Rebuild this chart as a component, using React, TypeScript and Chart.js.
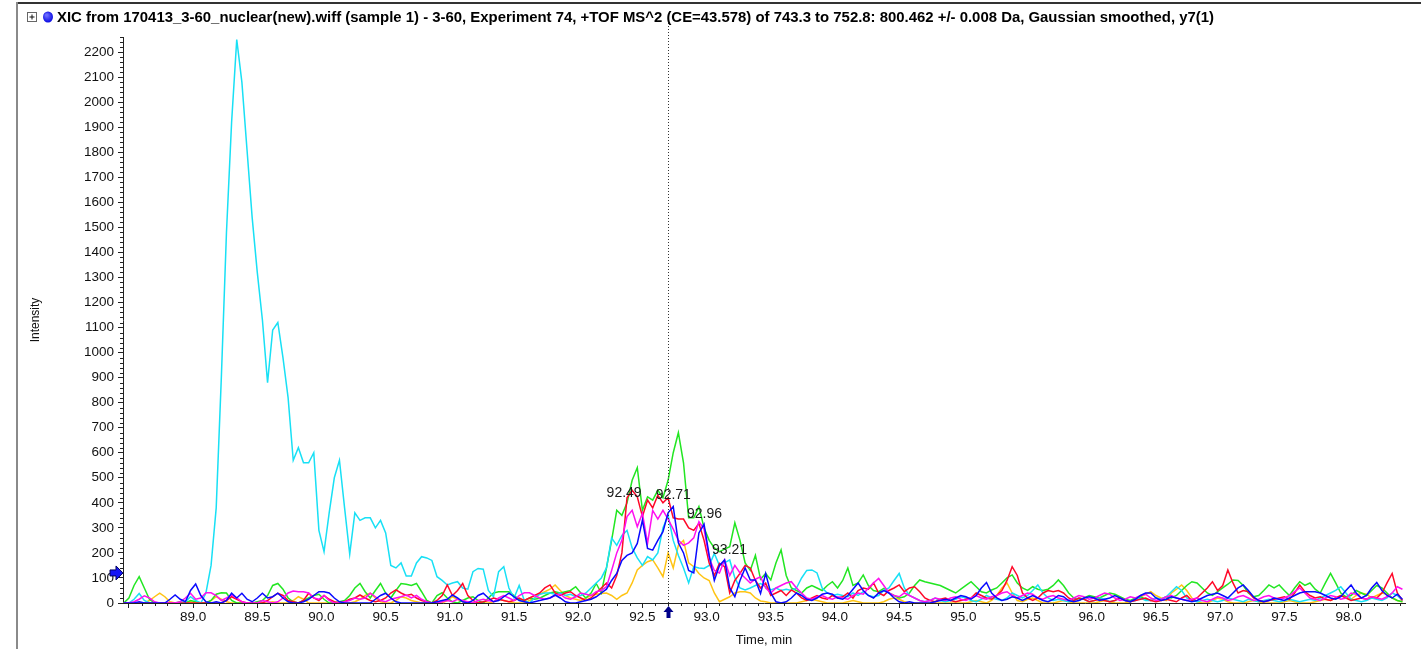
import { useEffect, useRef } from 'react';
import { Chart, registerables } from 'chart.js';

Chart.register(...registerables);

// ---------- data ----------
const TITLE =
  'XIC from 170413_3-60_nuclear(new).wiff (sample 1) - 3-60, Experiment 74, +TOF MS^2 (CE=43.578) of 743.3 to 752.8: 800.462 +/- 0.008 Da, Gaussian smoothed, y7(1)';
const X_TITLE = 'Time, min';
const Y_TITLE = 'Intensity';
const X_MIN = 88.454;
const X_MAX = 98.44;
const Y_MIN = 0;
const Y_MAX = 2260;
const CURSOR_TIME = 92.7;
const MARKER_LEVEL = 120;

const TIMES = [
  88.46, 88.5, 88.54, 88.58, 88.62, 88.66, 88.7, 88.74, 88.78, 88.82, 88.86, 88.9, 88.94, 88.98, 89.02, 89.06, 89.1, 89.14, 89.18, 89.22, 89.26, 89.3, 89.34, 89.38, 89.42,
  89.46, 89.5, 89.54, 89.58, 89.62, 89.66, 89.7, 89.74, 89.78, 89.82, 89.86, 89.9, 89.94, 89.98, 90.02, 90.06, 90.1, 90.14, 90.18, 90.22, 90.26, 90.3, 90.34, 90.38, 90.42,
  90.46, 90.5, 90.54, 90.58, 90.62, 90.66, 90.7, 90.74, 90.78, 90.82, 90.86, 90.9, 90.94, 90.98, 91.02, 91.06, 91.1, 91.14, 91.18, 91.22, 91.26, 91.3, 91.34, 91.38, 91.42,
  91.46, 91.5, 91.54, 91.58, 91.62, 91.66, 91.7, 91.74, 91.78, 91.82, 91.86, 91.9, 91.94, 91.98, 92.02, 92.06, 92.1, 92.14, 92.18, 92.22, 92.26, 92.3, 92.34, 92.38, 92.42,
  92.46, 92.5, 92.54, 92.58, 92.62, 92.66, 92.7, 92.74, 92.78, 92.82, 92.86, 92.9, 92.94, 92.98, 93.02, 93.06, 93.1, 93.14, 93.18, 93.22, 93.26, 93.3, 93.34, 93.38, 93.42,
  93.46, 93.5, 93.54, 93.58, 93.62, 93.66, 93.7, 93.74, 93.78, 93.82, 93.86, 93.9, 93.94, 93.98, 94.02, 94.06, 94.1, 94.14, 94.18, 94.22, 94.26, 94.3, 94.34, 94.38, 94.42,
  94.46, 94.5, 94.54, 94.58, 94.62, 94.66, 94.7, 94.74, 94.78, 94.82, 94.86, 94.9, 94.94, 94.98, 95.02, 95.06, 95.1, 95.14, 95.18, 95.22, 95.26, 95.3, 95.34, 95.38, 95.42,
  95.46, 95.5, 95.54, 95.58, 95.62, 95.66, 95.7, 95.74, 95.78, 95.82, 95.86, 95.9, 95.94, 95.98, 96.02, 96.06, 96.1, 96.14, 96.18, 96.22, 96.26, 96.3, 96.34, 96.38, 96.42,
  96.46, 96.5, 96.54, 96.58, 96.62, 96.66, 96.7, 96.74, 96.78, 96.82, 96.86, 96.9, 96.94, 96.98, 97.02, 97.06, 97.1, 97.14, 97.18, 97.22, 97.26, 97.3, 97.34, 97.38, 97.42,
  97.46, 97.5, 97.54, 97.58, 97.62, 97.66, 97.7, 97.74, 97.78, 97.82, 97.86, 97.9, 97.94, 97.98, 98.02, 98.06, 98.1, 98.14, 98.18, 98.22, 98.26, 98.3, 98.34, 98.38, 98.42,
];

const cyanIntensity = [
  0, 0, 15, 38, 10, 0, 0, 0, 0, 0, 0, 0, 5, 25, 10, 0, 40, 150, 380, 900, 1480, 1920, 2250, 2080, 1810,
  1540, 1320, 1130, 880, 1090, 1120, 980, 820, 570, 620, 560, 560, 600, 290, 205, 360, 500, 570, 380, 195, 360, 330, 340, 340, 300,
  330, 280, 150, 140, 160, 108, 108, 160, 185, 180, 170, 105, 90, 72, 80, 85, 60, 55, 125, 138, 135, 50, 25, 125, 145,
  60, 20, 70, 10, 0, 20, 35, 40, 40, 35, 40, 30, 35, 25, 30, 40, 60, 80, 100, 140, 260, 230, 270, 290, 220,
  180, 150, 185, 172, 200, 300, 350, 250, 190, 140, 80, 145, 140, 138, 150, 198, 150, 160, 172, 100, 60, 52, 60, 70, 78,
  65, 52, 60, 50, 55, 50, 60, 100, 130, 132, 120, 60, 40, 30, 35, 30, 25, 40, 30, 45, 30, 25, 30, 50, 60,
  90, 118, 60, 30, 20, 10, 5, 10, 20, 10, 5, 10, 15, 25, 20, 10, 5, 15, 30, 20, 15, 10, 20, 40, 30,
  20, 30, 50, 72, 40, 20, 10, 15, 10, 5, 10, 20, 15, 5, 10, 20, 15, 5, 10, 20, 10, 5, 10, 20, 10,
  10, 20, 15, 25, 45, 65, 50, 20, 10, 5, 10, 15, 10, 5, 10, 20, 15, 10, 5, 15, 10, 5, 10, 15, 10,
  5, 10, 15, 10, 5, 10, 15, 10, 20, 30, 40, 50, 65, 40, 15, 10, 5, 10, 20, 15, 10, 20, 40, 30, 10,
];

const greenIntensity = [
  0, 20, 70, 105, 60, 15, 0, 0, 0, 0, 0, 5, 0, 10, 5, 0, 0, 10, 35, 41, 40, 10, 0, 0, 0,
  0, 5, 10, 30, 70, 78, 55, 20, 5, 0, 10, 20, 30, 35, 15, 0, 0, 5, 10, 30, 60, 78, 45, 20, 50,
  78, 40, 20, 50, 78, 75, 70, 78, 45, 10, 0, 30, 41, 20, 5, 0, 10, 20, 25, 10, 0, 20, 40, 45, 45,
  45, 30, 15, 10, 20, 15, 19, 30, 40, 45, 40, 45, 50, 65, 40, 20, 40, 78, 40, 140, 250, 370, 350, 400, 490,
  540, 370, 424, 411, 450, 420, 490, 600, 680, 560, 340, 340, 385, 300, 250, 220, 205, 215, 225, 320, 250, 160, 130, 190, 95,
  118, 92, 160, 212, 110, 60, 50, 40, 60, 70, 60, 50, 70, 85, 60, 90, 140, 70, 80, 112, 70, 50, 45, 58, 40,
  30, 20, 25, 40, 70, 92, 85, 80, 75, 70, 60, 50, 40, 55, 70, 85, 65, 45, 40, 52, 60, 80, 100, 112, 80,
  60, 50, 65, 55, 50, 55, 70, 92, 70, 40, 20, 10, 20, 30, 25, 20, 30, 40, 35, 25, 15, 10, 20, 25, 15,
  10, 20, 15, 25, 20, 30, 50, 70, 85, 80, 60, 40, 30, 45, 60, 75, 92, 90, 70, 40, 25, 30, 50, 72, 60,
  72, 50, 30, 60, 85, 70, 80, 55, 40, 80, 118, 80, 40, 25, 30, 50, 40, 30, 50, 70, 60, 40, 20, 10, 5,
];

const redIntensity = [
  0, 0, 0, 0, 0, 0, 0, 0, 0, 0, 0, 0, 0, 0, 0, 0, 0, 0, 0, 0, 10, 25, 15, 5, 0,
  0, 0, 0, 10, 25, 39, 30, 10, 5, 0, 10, 39, 20, 10, 30, 15, 5, 0, 5, 15, 20, 32, 20, 10, 5,
  10, 20, 40, 52, 40, 30, 35, 20, 10, 5, 0, 10, 30, 72, 30, 50, 78, 30, 10, 0, 5, 10, 20, 15, 10,
  5, 10, 20, 10, 20, 30, 40, 60, 72, 40, 30, 40, 45, 30, 20, 10, 20, 40, 60, 80, 60, 110, 200, 420, 450,
  424, 345, 411, 380, 430, 400, 420, 340, 335, 335, 300, 290, 318, 250, 160, 110, 158, 145, 40, 90, 118, 150, 140, 90, 60,
  80, 30, 40, 50, 30, 52, 40, 20, 10, 20, 30, 20, 15, 30, 20, 25, 40, 20, 50, 60, 55, 80, 40, 30, 50,
  60, 72, 45, 60, 65, 45, 20, 10, 5, 15, 20, 10, 5, 10, 15, 20, 40, 30, 20, 15, 30, 50, 90, 145, 110,
  40, 20, 10, 20, 40, 50, 45, 50, 40, 20, 10, 20, 15, 5, 10, 15, 10, 5, 10, 20, 10, 5, 10, 15, 20,
  10, 5, 10, 15, 10, 5, 20, 30, 10, 20, 40, 60, 85, 50, 70, 132, 80, 40, 50, 45, 20, 10, 5, 10, 15,
  20, 25, 15, 40, 72, 45, 30, 20, 25, 15, 10, 20, 30, 20, 10, 15, 20, 15, 25, 20, 40, 80, 118, 40, 10,
];

const magentaIntensity = [
  0, 0, 5, 15, 29, 20, 5, 0, 0, 0, 0, 5, 20, 39, 15, 20, 41, 41, 30, 10, 20, 32, 20, 5, 0,
  0, 0, 10, 5, 0, 5, 20, 40, 48, 45, 45, 40, 20, 15, 30, 10, 0, 0, 5, 10, 20, 15, 20, 39, 25,
  10, 5, 15, 20, 25, 32, 20, 30, 15, 5, 0, 0, 5, 10, 5, 15, 10, 5, 0, 10, 15, 10, 5, 20, 30,
  20, 10, 30, 41, 41, 30, 20, 15, 20, 30, 35, 20, 15, 25, 40, 35, 30, 45, 50, 65, 130, 200, 250, 345, 370,
  305, 358, 238, 370, 335, 370, 335, 295, 250, 230, 240, 260, 325, 295, 180, 130, 120, 172, 110, 150, 120, 100, 80, 95, 105,
  60, 40, 60, 70, 80, 85, 60, 40, 20, 15, 25, 30, 20, 15, 25, 20, 15, 30, 40, 35, 60, 80, 98, 70, 40,
  30, 25, 40, 30, 20, 10, 5, 10, 20, 15, 10, 20, 25, 15, 10, 20, 30, 20, 15, 25, 30, 40, 45, 30, 20,
  30, 40, 35, 20, 15, 25, 30, 20, 15, 10, 20, 30, 25, 15, 20, 30, 40, 35, 20, 10, 15, 25, 20, 30, 35,
  20, 10, 15, 25, 30, 20, 15, 10, 15, 20, 10, 5, 15, 25, 20, 10, 15, 25, 30, 20, 10, 15, 25, 30, 20,
  15, 20, 30, 45, 60, 40, 20, 15, 10, 20, 30, 25, 15, 20, 40, 35, 20, 15, 25, 20, 15, 25, 40, 65, 55,
];

const blueIntensity = [
  0, 0, 0, 5, 0, 0, 0, 0, 0, 15, 32, 15, 5, 50, 76, 30, 5, 0, 5, 0, 10, 39, 20, 39, 15,
  5, 20, 39, 20, 25, 39, 20, 5, 0, 0, 5, 15, 30, 45, 45, 40, 20, 5, 0, 0, 0, 0, 0, 0, 15,
  30, 39, 20, 5, 0, 0, 0, 0, 0, 0, 0, 5, 10, 15, 32, 20, 5, 0, 10, 30, 39, 20, 5, 10, 25,
  39, 25, 10, 5, 0, 5, 10, 15, 20, 32, 20, 5, 0, 0, 5, 10, 15, 25, 40, 55, 90, 118, 170, 190, 200,
  238, 331, 218, 211, 250, 285, 360, 385, 240, 200, 130, 120, 280, 315, 190, 90, 150, 172, 60, 25, 90, 140, 92, 92, 38,
  118, 40, 5, 0, 5, 20, 40, 30, 15, 10, 20, 35, 40, 35, 20, 15, 30, 55, 80, 50, 30, 20, 40, 50, 40,
  20, 5, 0, 5, 0, 0, 0, 0, 5, 10, 15, 10, 20, 30, 25, 15, 30, 60, 82, 40, 20, 10, 15, 25, 20,
  10, 20, 30, 20, 10, 5, 15, 30, 25, 10, 5, 10, 20, 25, 20, 10, 15, 20, 30, 20, 10, 5, 15, 30, 40,
  40, 20, 10, 15, 25, 20, 15, 10, 5, 10, 20, 30, 35, 40, 30, 20, 40, 60, 72, 50, 25, 10, 5, 10, 20,
  15, 10, 20, 30, 40, 45, 45, 45, 40, 30, 20, 15, 25, 50, 72, 40, 20, 30, 60, 82, 50, 30, 20, 35, 15,
];

const yellowIntensity = [
  0, 0, 0, 0, 0, 10, 25, 39, 25, 5, 0, 0, 0, 5, 0, 0, 0, 10, 25, 15, 5, 0, 0, 0, 0,
  0, 0, 0, 0, 5, 0, 0, 0, 10, 25, 15, 0, 0, 0, 0, 0, 0, 0, 0, 0, 5, 15, 30, 39, 20,
  5, 0, 0, 10, 25, 20, 10, 5, 0, 0, 0, 0, 0, 10, 25, 15, 5, 0, 0, 0, 0, 0, 5, 15, 10,
  5, 0, 0, 0, 10, 20, 35, 45, 55, 72, 50, 30, 20, 15, 10, 20, 30, 35, 38, 40, 30, 15, 30, 40, 80,
  132, 150, 165, 172, 140, 105, 200, 140, 230, 250, 160, 145, 118, 100, 90, 40, 5, 15, 25, 40, 45, 45, 40, 20, 8,
  5, 0, 0, 0, 0, 0, 0, 5, 10, 15, 10, 5, 0, 0, 0, 0, 5, 10, 5, 0, 0, 0, 0, 5, 15,
  20, 15, 5, 0, 0, 0, 0, 0, 0, 0, 0, 0, 0, 0, 0, 5, 10, 5, 0, 10, 30, 60, 80, 40, 10,
  5, 15, 20, 10, 0, 0, 0, 5, 10, 5, 0, 0, 0, 0, 0, 5, 10, 5, 0, 0, 0, 5, 15, 25, 35,
  45, 30, 20, 10, 40, 55, 72, 50, 20, 5, 0, 0, 10, 20, 15, 5, 0, 0, 0, 5, 10, 5, 0, 0, 0,
  0, 5, 10, 5, 0, 0, 0, 5, 10, 15, 10, 20, 30, 25, 15, 30, 40, 35, 20, 30, 40, 35, 20, 10, 5,
];

const PEAK_LABELS = ['92.49', '92.71', '92.96', '93.21'];
const PEAK_TIMES = [92.49, 92.71, 92.96, 93.21];
const PEAK_LEVELS = [415, 407, 331, 188];

// ---------- styling ----------
const FONT = "'Liberation Sans', Arial, sans-serif";
const SERIES = [
  { label: 'blue', values: blueIntensity, color: '#0A0AFF' },
  { label: 'magenta', values: magentaIntensity, color: '#FF10F0' },
  { label: 'red', values: redIntensity, color: '#FF0828' },
  { label: 'cyan', values: cyanIntensity, color: '#18E0F5' },
  { label: 'green', values: greenIntensity, color: '#22E622' },
  { label: 'yellow', values: yellowIntensity, color: '#FFC414' },
];
const LABEL_DX = [-17, 4, 3, -4];

const overlayPlugin = {
  id: 'overlay',
  afterDatasetsDraw(chart: any) {
    const { ctx, scales } = chart;
    const xs = scales.x;
    const ys = scales.y;
    ctx.save();
    ctx.fillStyle = '#1a1a1a';
    ctx.font = `14px ${FONT}`;
    ctx.textAlign = 'center';
    ctx.textBaseline = 'bottom';
    PEAK_LABELS.forEach((lab, i) => {
      const px = xs.getPixelForValue(PEAK_TIMES[i]) + LABEL_DX[i];
      const py = ys.getPixelForValue(PEAK_LEVELS[i]) + 1;
      ctx.fillText(lab, px, py);
    });
    ctx.restore();
  },
  afterDraw(chart: any) {
    const { ctx, scales, chartArea } = chart;
    const xs = scales.x;
    const ys = scales.y;
    ctx.save();

    // frame
    ctx.fillStyle = '#333';
    ctx.fillRect(17, 2, chart.width - 17, 2);
    ctx.fillStyle = '#8a8a8a';
    ctx.fillRect(16, 2, 2, chart.height - 2);

    // minor ticks
    ctx.strokeStyle = '#222';
    ctx.lineWidth = 1;
    ctx.beginPath();
    for (let i = 885; i <= 984; i++) {
      if (i % 5 === 0) continue;
      const px = Math.round(xs.getPixelForValue(i / 10)) + 0.5;
      ctx.moveTo(px, chartArea.bottom);
      ctx.lineTo(px, chartArea.bottom + 3);
    }
    for (let v = 20; v <= Y_MAX; v += 20) {
      if (v % 100 === 0) continue;
      const py = Math.round(ys.getPixelForValue(v)) + 0.5;
      ctx.moveTo(chartArea.left - 3, py);
      ctx.lineTo(chartArea.left, py);
    }
    ctx.stroke();

    // cursor line
    const cx = Math.round(xs.getPixelForValue(CURSOR_TIME)) + 0.5;
    ctx.strokeStyle = '#333';
    ctx.setLineDash([1, 2]);
    ctx.beginPath();
    ctx.moveTo(cx, 20);
    ctx.lineTo(cx, chartArea.bottom);
    ctx.stroke();
    ctx.setLineDash([]);

    // up arrow under cursor
    const ab = chartArea.bottom;
    ctx.fillStyle = '#00008B';
    ctx.beginPath();
    ctx.moveTo(cx, ab + 3);
    ctx.lineTo(cx + 5, ab + 9);
    ctx.lineTo(cx + 2, ab + 9);
    ctx.lineTo(cx + 2, ab + 15);
    ctx.lineTo(cx - 2, ab + 15);
    ctx.lineTo(cx - 2, ab + 9);
    ctx.lineTo(cx - 5, ab + 9);
    ctx.closePath();
    ctx.fill();

    // left marker arrow
    const my = ys.getPixelForValue(MARKER_LEVEL);
    const mx = chartArea.left;
    ctx.fillStyle = '#1515F5';
    ctx.strokeStyle = '#000060';
    ctx.beginPath();
    ctx.moveTo(mx, my);
    ctx.lineTo(mx - 7, my - 7);
    ctx.lineTo(mx - 7, my - 3);
    ctx.lineTo(mx - 13, my - 3);
    ctx.lineTo(mx - 13, my + 3);
    ctx.lineTo(mx - 7, my + 3);
    ctx.lineTo(mx - 7, my + 7);
    ctx.closePath();
    ctx.fill();
    ctx.stroke();

    // title header: expand box, blue dot, text
    ctx.fillStyle = '#fff';
    ctx.fillRect(27.5, 12.5, 9, 9);
    ctx.strokeStyle = '#666';
    ctx.strokeRect(27.5, 12.5, 9, 9);
    ctx.strokeStyle = '#111';
    ctx.beginPath();
    ctx.moveTo(29.5, 17);
    ctx.lineTo(34.5, 17);
    ctx.moveTo(32, 14.5);
    ctx.lineTo(32, 19.5);
    ctx.stroke();

    const grad = ctx.createRadialGradient(46.5, 15, 1, 48, 17, 6);
    grad.addColorStop(0, '#6a6aff');
    grad.addColorStop(1, '#0000e0');
    ctx.fillStyle = grad;
    ctx.beginPath();
    ctx.ellipse(48, 17, 5, 5.5, 0, 0, Math.PI * 2);
    ctx.fill();

    ctx.fillStyle = '#000';
    ctx.font = `bold 15px ${FONT}`;
    ctx.textBaseline = 'middle';
    ctx.textAlign = 'left';
    const w = ctx.measureText(TITLE).width;
    const target = 1157;
    ctx.translate(57, 17.5);
    ctx.scale(target / w, 1);
    ctx.fillText(TITLE, 0, 0);

    ctx.restore();
  },
};

export default function App() {
  const ref = useRef<HTMLCanvasElement>(null);

  useEffect(() => {
    const canvas = ref.current;
    if (!canvas) return;
    const datasets = SERIES.map((s) => ({
      label: s.label,
      data: TIMES.map((t, i) => ({ x: t, y: s.values[i] })),
      borderColor: s.color,
      backgroundColor: s.color,
      borderWidth: 1.5,
      pointRadius: 0,
      tension: 0,
      fill: false,
    }));

    const chart = new Chart(canvas, {
      type: 'line',
      data: { datasets },
      plugins: [overlayPlugin],
      options: {
        responsive: false,
        animation: false,
        devicePixelRatio: 1,
        layout: { padding: { left: 0, right: 16, top: 37, bottom: 0 } },
        plugins: {
          legend: { display: false },
          tooltip: { enabled: false },
          title: { display: false },
        },
        scales: {
          x: {
            type: 'linear',
            min: X_MIN,
            max: X_MAX,
            afterFit: (s: any) => {
              s.height = 46;
            },
            ticks: {
              stepSize: 0.5,
              includeBounds: false,
              autoSkip: false,
              maxTicksLimit: 100,
              maxRotation: 0,
              color: '#111',
              padding: 1,
              font: { family: FONT, size: 13.5 },
              callback: (v: any) => (Number(v) < 88.9 ? '' : Number(v).toFixed(1)),
            },
            grid: { drawOnChartArea: false, drawTicks: true, tickLength: 5, color: '#222' },
            border: { display: true, color: '#222', width: 1 },
            title: {
              display: true,
              text: X_TITLE,
              color: '#111',
              font: { family: FONT, size: 13 },
              padding: { top: 0, bottom: 1 },
            },
          },
          y: {
            type: 'linear',
            min: Y_MIN,
            max: Y_MAX,
            afterFit: (s: any) => {
              s.width = 123;
            },
            ticks: {
              stepSize: 100,
              includeBounds: false,
              autoSkip: false,
              maxTicksLimit: 100,
              color: '#111',
              padding: 4,
              font: { family: FONT, size: 13.5 },
              callback: (v: any) => String(v),
            },
            grid: { drawOnChartArea: false, drawTicks: true, tickLength: 5, color: '#222' },
            border: { display: true, color: '#222', width: 1 },
            title: {
              display: true,
              text: Y_TITLE,
              color: '#111',
              font: { family: FONT, size: 12 },
              padding: { top: 28, bottom: 0 },
            },
          },
        },
      },
    } as any);

    return () => chart.destroy();
  }, []);

  return (
    <div style={{ position: 'fixed', left: 0, top: 0, width: 1421, height: 649, background: '#fff' }}>
      <canvas ref={ref} width={1421} height={649} style={{ display: 'block', width: 1421, height: 649 }} />
    </div>
  );
}
